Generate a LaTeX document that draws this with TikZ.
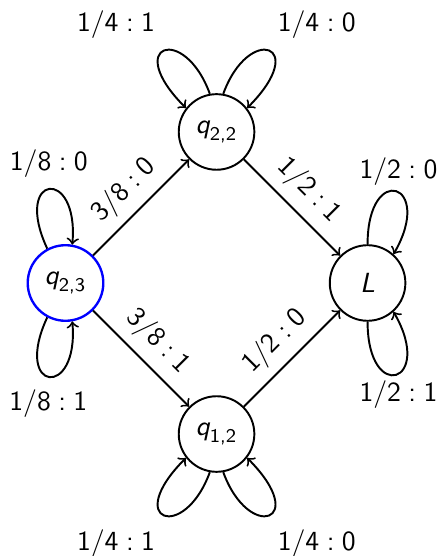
\documentclass[tikz,border=0pt]{standalone}
\usepackage{amsmath}
\usepackage{amssymb}

\newcommand{\wlab}[2]{#1\hspace{0.27em}:\hspace{0.27em}#2}

\begin{document}
\begin{tikzpicture}[>=to,line width=0.7pt]
\tikzstyle{every node}=[font=\sffamily];
\tikzstyle{state}=[draw,shape=circle,minimum size=0.96cm,inner sep=0pt];
\tikzstyle{lab}=[anchor=base,inner sep=0pt];
\useasboundingbox (-2.750,-3.467) rectangle (2.864,3.594);

% states
\node[state,draw=blue,line width=0.85pt] (q23) at (-1.918,0) {$\text{\itshape q}_{\text{2,3}}$};
\node[state] (q22) at (0,1.918) {$\text{\itshape q}_{\text{2,2}}$};
\node[state] (q12) at (0,-1.918) {$\text{\itshape q}_{\text{1,2}}$};
\node[state] (L) at (1.918,0) {\itshape L};

% transitions
\draw[->] (q23) -- node[above,sloped] {\wlab{3/8}{0}} (q22);
\draw[->] (q23) -- node[above,sloped] {\wlab{3/8}{1}} (q12);
\draw[->] (q22) -- node[above,sloped] {\wlab{1/2}{1}} (L);
\draw[->] (q12) -- node[above,sloped] {\wlab{1/2}{0}} (L);

% loops
\draw[->] (q22.100) to[out=110,in=135,out distance=0.95cm,in distance=1.15cm] (q22.142);
\draw[->] (q22.80) to[out=70,in=45,out distance=0.95cm,in distance=1.15cm] (q22.38);
\draw[->] (q12.-100) to[out=-110,in=-135,out distance=0.95cm,in distance=1.15cm] (q12.-142);
\draw[->] (q12.-80) to[out=-70,in=-45,out distance=0.95cm,in distance=1.15cm] (q12.-38);
\draw[->] (q23.118) to[out=115,in=85,out distance=1.05cm,in distance=1cm] (q23.80);
\draw[->] (q23.-118) to[out=-115,in=-85,out distance=1.05cm,in distance=1cm] (q23.-80);
\draw[->] (L.90) to[out=90,in=60,distance=1.05cm] (L.48);
\draw[->] (L.-90) to[out=-90,in=-60,distance=1.05cm] (L.-48);

% loop labels
\node[lab] (l1) at (-1.276,3.192) {\wlab{1/4}{1}};
\node[lab] (l2) at (1.273,3.192) {\wlab{1/4}{0}};
\node[lab] (l3) at (-1.276,-3.391) {\wlab{1/4}{1}};
\node[lab] (l4) at (1.273,-3.391) {\wlab{1/4}{0}};
\node[lab] (l5) at (-2.130,1.426) {\wlab{1/8}{0}};
\node[lab] (l6) at (-2.136,-1.613) {\wlab{1/8}{1}};
\node[lab] (l7) at (2.311,1.321) {\wlab{1/2}{0}};
\node[lab] (l8) at (2.311,-1.507) {\wlab{1/2}{1}};
\end{tikzpicture}
\end{document}
